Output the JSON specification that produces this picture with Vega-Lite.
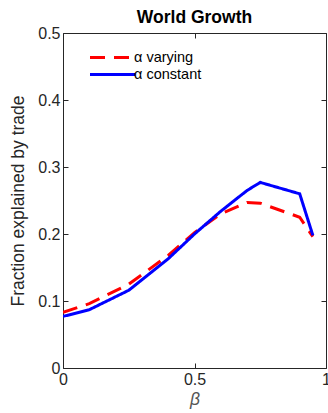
{
  "$schema": "https://vega.github.io/schema/vega-lite/v6.json",
  "autosize": "none",
  "width": 263,
  "height": 335,
  "padding": {"left": 63, "top": 33, "right": 2, "bottom": 45},
  "background": "white",
  "title": {"text": "World Growth", "fontSize": 17.5, "fontWeight": "bold", "font": "Liberation Sans", "color": "#000000", "offset": -1, "anchor": "middle"},
  "config": {"view": {"stroke": "#262626", "strokeWidth": 1}, "font": "Liberation Sans"},
  "data": {"values": [
    {"beta": 0, "frac": 0.083, "series": "α varying"},
    {"beta": 0.1, "frac": 0.096, "series": "α varying"},
    {"beta": 0.25, "frac": 0.125, "series": "α varying"},
    {"beta": 0.4, "frac": 0.168, "series": "α varying"},
    {"beta": 0.5, "frac": 0.202, "series": "α varying"},
    {"beta": 0.6, "frac": 0.230, "series": "α varying"},
    {"beta": 0.7, "frac": 0.247, "series": "α varying"},
    {"beta": 0.75, "frac": 0.246, "series": "α varying"},
    {"beta": 0.9, "frac": 0.225, "series": "α varying"},
    {"beta": 0.95, "frac": 0.196, "series": "α varying"},
    {"beta": 0, "frac": 0.077, "series": "α constant"},
    {"beta": 0.1, "frac": 0.087, "series": "α constant"},
    {"beta": 0.25, "frac": 0.116, "series": "α constant"},
    {"beta": 0.4, "frac": 0.163, "series": "α constant"},
    {"beta": 0.5, "frac": 0.200, "series": "α constant"},
    {"beta": 0.6, "frac": 0.234, "series": "α constant"},
    {"beta": 0.7, "frac": 0.265, "series": "α constant"},
    {"beta": 0.75, "frac": 0.277, "series": "α constant"},
    {"beta": 0.9, "frac": 0.260, "series": "α constant"},
    {"beta": 0.95, "frac": 0.198, "series": "α constant"}
  ]},
  "layer": [
    {
      "mark": {"type": "line", "strokeWidth": 3, "clip": true},
      "encoding": {
        "x": {"field": "beta", "type": "quantitative", "scale": {"domain": [0, 1], "nice": false},
          "axis": {"orient": "bottom", "values": [0, 0.5, 1], "labelExpr": "datum.value", "labelFlush": false, "domain": false, "grid": false,
            "tickSize": -5, "tickColor": "#262626", "labelFontSize": 16, "labelColor": "#262626", "labelPadding": 8, "labelFont": "Liberation Sans",
            "title": "β", "titleFontStyle": "italic", "titleFontWeight": "normal", "titleFontSize": 17.5, "titleColor": "#555555", "titlePadding": 3, "titleFont": "Liberation Sans"}},
        "y": {"field": "frac", "type": "quantitative", "scale": {"domain": [0, 0.5], "nice": false},
          "axis": {"orient": "left", "values": [0, 0.1, 0.2, 0.3, 0.4, 0.5], "labelExpr": "datum.value", "labelFlush": false, "domain": false, "grid": false,
            "tickSize": -5, "tickColor": "#262626", "labelFontSize": 16, "labelColor": "#262626", "labelPadding": 8, "labelFont": "Liberation Sans",
            "title": "Fraction explained by trade", "titleFontWeight": "normal", "titleFontSize": 17.5, "titleColor": "#262626", "titlePadding": 10, "titleFont": "Liberation Sans"}},
        "color": {"field": "series", "type": "nominal", "scale": {"domain": ["α varying", "α constant"], "range": ["#ff0000", "#0000ff"]},
          "legend": {"orient": "none", "legendX": 39, "legendY": 14, "title": null, "symbolType": "M-2.5,0H2.5", "symbolSize": 324, "symbolStrokeWidth": 3, "symbolFillColor": "transparent",
            "labelFontSize": 14.5, "labelFont": "Liberation Sans", "labelColor": "#000000", "labelOffset": 11, "rowPadding": 0}},
        "strokeDash": {"field": "series", "type": "nominal", "scale": {"domain": ["α varying", "α constant"], "range": [[15, 9], [1, 0]]}}
      }
    },
    {
      "mark": {"type": "point", "opacity": 0},
      "encoding": {
        "x": {"field": "beta", "type": "quantitative",
          "axis": {"orient": "top", "values": [0, 0.5, 1], "labels": false, "domain": false, "grid": false, "tickSize": -5, "tickColor": "#262626", "title": null}},
        "y": {"field": "frac", "type": "quantitative",
          "axis": {"orient": "right", "values": [0, 0.1, 0.2, 0.3, 0.4, 0.5], "labels": false, "domain": false, "grid": false, "tickSize": -5, "tickColor": "#262626", "title": null}}
      }
    }
  ],
  "resolve": {"axis": {"x": "independent", "y": "independent"}}
}
